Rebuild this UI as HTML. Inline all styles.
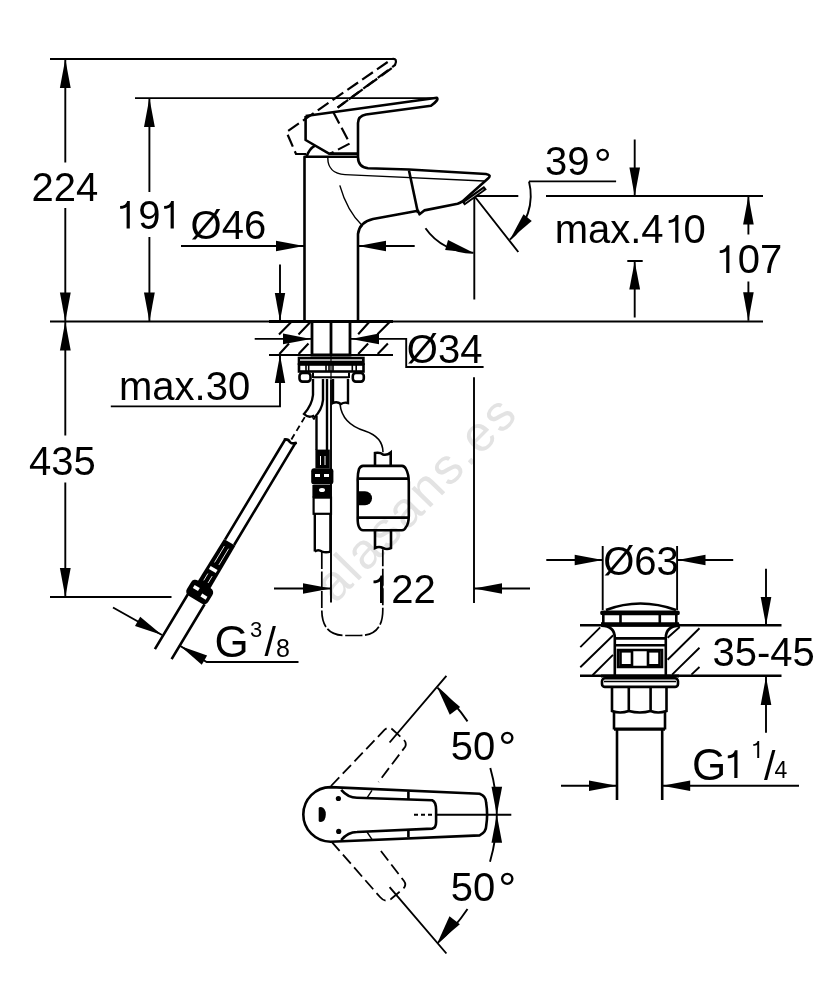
<!DOCTYPE html>
<html><head><meta charset="utf-8"><style>
html,body{margin:0;padding:0;background:#fff;}
svg{display:block;will-change:transform;}
text{font-family:"Liberation Sans",sans-serif;font-size:40px;fill:#000;}
</style></head><body>
<svg width="834" height="1000" viewBox="0 0 834 1000">
<defs>
  <path id="one" d="M0,0 V-27.7 H-2.6 C-3.2,-24.6 -6,-22.8 -9.7,-22.5 V-19.8 C-6.7,-19.8 -4.6,-20.6 -3.2,-21.6 V0 Z"/>
  <path id="ah" d="M0,0l-28,-5.3v10.6z"/>
</defs>
<rect width="834" height="1000" fill="#fff"/>
<!-- watermark -->
<text x="0" y="0" transform="translate(335.2,604.4) rotate(-45.6)" style="fill:#e3e3e3;font-size:50px;letter-spacing:2.6px">alasans.es</text>

<!-- ============ DIMENSION LINES ============ -->
<g stroke="#000" stroke-width="1.9" fill="none">
  <path d="M50,59H395 M135,98.1H437 M50,321.5H763 M50,597H171.5"/>
  <path d="M65.3,59V162.4 M65.3,208V435.6 M65.3,482.6V597"/>
  <path d="M149.4,98V192 M149.4,237V321.5"/>
  <path d="M181,246H304 M358,246H414.7"/>
  <path d="M280,264.4V321 M280,355V406.4H110.8"/>
  <path d="M254.7,338.9H311 M351,338.9H406.2V367H483.6"/>
  <path d="M474.3,196V299.5 M474.3,196H518.3 M546,196H763 M474.3,196L518.3,252"/>
  <path d="M529,181.4H616.1"/>
  <path d="M634.7,139.6V196 M634.7,261.5V317.6 M627.3,261H642.7"/>
  <path d="M748.4,196V234.4 M748.4,281.6V320.7"/>
  <path d="M529,181.4 A57,57 0 0 1 510,239.4"/>
  <path d="M425.5,228.2 A57,57 0 0 0 473.5,252.7"/>
  <path d="M331,380V602.4 M474,377.2V603 M274,588.5H331 M474,588.5H530"/>
  <path d="M113,607.5L162,635 M180.3,646L206.7,662H298.5"/>
  <path d="M546.3,560H602.7 M677.5,560H733.2 M602.7,545.9V610 M677.1,545.9V610"/>
  <path d="M766,568.8V625.6 M766,676.5V732.7"/>
  <path d="M561,785.7H617 M662.2,785.7H799"/>
  <path d="M446.4,675.8L389.6,742.5 M389.6,887.1L446.4,953.5"/>
  <path d="M437.5,687.8 A168,168 0 0 1 467.5,721.4 M490.3,768.1 A168,168 0 0 1 496.8,814.8 A168,168 0 0 1 490,861.7 M467.5,909 A168,168 0 0 1 437.2,943.4"/>
  <path d="M414,814.8h4 M421,814.8h4 M428,814.8h4 M436,814.8H511.3" />
</g>

<g fill="#000" stroke="none">
  <path d="M65.3,59l-5.4,29h10.8z"/>
  <path d="M65.3,321.5l-5.4,-29h10.8z"/>
  <path d="M65.3,321.5l-5.4,29h10.8z"/>
  <path d="M65.3,597l-5.4,-29h10.8z"/>
  <path d="M149.4,98l-5.4,29h10.8z"/>
  <path d="M149.4,321.5l-5.4,-29h10.8z"/>
  <path d="M280,321l-5.2,-28h10.4z"/>
  <path d="M280,355l-5.2,28h10.4z"/>
  <path d="M634.7,196l-5.3,-28.5h10.6z"/>
  <path d="M634.7,261.5l-5.4,28h10.8z"/>
  <path d="M748.4,196l-5.3,28.5h10.6z"/>
  <path d="M748.4,320.7l-5.3,-28.5h10.6z"/>
  <path d="M766,625.6l-5.3,-28.5h10.6z"/>
  <path d="M766,676.5l-5.3,28.5h10.6z"/>
  <path d="M304,246l-28,-5.3v10.6z"/>
  <path d="M358,246l28,-5.3v10.6z"/>
  <path d="M311,338.9l-28,-5.3v10.6z"/>
  <path d="M351,338.9l28,-5.3v10.6z"/>
  <path d="M331,588.5l-28,-5.3v10.6z"/>
  <path d="M474,588.5l28,-5.3v10.6z"/>
  <path d="M602.7,560l-28,-5.3v10.6z"/>
  <path d="M677.5,560l28,-5.3v10.6z"/>
  <path d="M617,785.7l-28,-5.3v10.6z"/>
  <path d="M662.2,785.7l28,-5.3v10.6z"/>
  <use href="#ah" transform="translate(162,635) rotate(29.3)"/>
  <use href="#ah" transform="translate(180.3,646) rotate(210.4)"/>
  <use href="#ah" transform="translate(510,239.4) rotate(129)"/>
  <use href="#ah" transform="translate(473.5,252.7) rotate(16)"/>
  <path d="M0,0l-29,-6.5v13z" transform="translate(437.5,687.8) rotate(-127)"/>
  <use href="#ah" transform="translate(496.8,814.8) rotate(90)"/>
  <use href="#ah" transform="translate(496.8,814.8) rotate(-90)"/>
  <path d="M0,0l-29,-6.5v13z" transform="translate(437.2,943.4) rotate(127)"/>
</g>

<!-- ============ FAUCET SIDE VIEW ============ -->
<g stroke="#000" stroke-width="2.6" fill="none" stroke-linejoin="round">
  <path d="M304.5,321.5V156.8H358"/>
  <path d="M358,321.5V234 Q359.5,222 373,219 L418,210.7 L419.5,214.3 L424.3,210.4 L457.6,203.8 Q460,203 462.4,201.4 L488,178.5 Q492,175 486,174 L409,169.5 L368,168.3 Q358,167 358,157"/>
  <path d="M409,170.5L418,213"/>
  <path d="M305.6,116 V140 L329,153.6 H358 M305.6,116 L437,97.8 Q439,100 431,105.8 L366,114.5 Q358,116 358,123 V157"/>
  <path d="M306.5,157 Q309,149 315,145.7"/>
</g>
<path d="M461.5,201.8 L484,186 L486.8,189.6 L464.5,205.5 Z" fill="#000"/>
<path d="M465,202.5 L483.5,189.3" stroke="#fff" stroke-width="0.7"/>
<g stroke="#000" stroke-width="1.4" fill="none">
  <path d="M327.8,158 C327.8,167 333,174 345,174.6 L484,181"/>
  <path d="M339.8,185.4 Q347,211 362.6,226.1"/>
</g>
<g stroke="#000" stroke-width="2.2" fill="none" stroke-dasharray="13,5">
  <path d="M306,154 H296 L286.5,132 L392,59 Q398,58 395,65 L337.6,107.6"/>
  <path d="M333.2,111.9 L349.8,143.5 L330.4,153.6"/>
  <path d="M337.6,107.6 L392,68"/>
</g>

<!-- countertop hatch -->
<g stroke="#000" stroke-width="2.1" fill="none">
  <path d="M269,355H393"/>
  <path d="M279,334.5L291,322.3 M298.5,334.5L310,322.5 M279.4,354L289,343.5 M298.6,354L308.5,343.5"/>
  <path d="M358.2,334.2L369,322.2 M377.4,334.2L389.4,322.2 M358.2,354L368.1,343.5 M377.7,354L387.9,343.5"/>
</g>
<g stroke="#000" stroke-width="2.8" fill="none">
  <path d="M269,321.5H393"/>
  <path d="M312,321.5V355H350V321.5 M331,321.5V355"/>
</g>
<!-- plate & nuts -->
<g stroke="#000" fill="none">
  <rect x="297.7" y="356.7" width="67" height="8.3" fill="#000" stroke="none"/>
  <rect x="300" y="359" width="62" height="2" fill="#aaa" stroke="none"/>
  <rect x="299" y="364.5" width="64.5" height="7" stroke-width="2.6"/>
  <path d="M306,365V371 M308.7,365V371 M326,365V371 M329,365V371 M333,365V371 M352.3,365V371 M356.2,365V371" stroke-width="1.6"/>
  <path d="M331,356V380" stroke-width="1.2"/>
  <rect x="299.5" y="373" width="11" height="8.6" rx="3" stroke-width="2.6"/>
  <rect x="352.8" y="373" width="11" height="8.6" rx="3" stroke-width="2.6"/>
  <path d="M313,377.3H349 M313,372.5V378 M349,372.5V378" stroke-width="2"/>
</g>
<!-- pipes under -->
<g stroke="#000" stroke-width="2.4" fill="none">
  <path d="M313,379V395 Q312,405 304,414 Q308,418 313,416 Q314,420 314,418 M323,379V400 Q322,410 314,418"/>
  <path d="M316.5,416V450 M327,379V450"/>
  <path d="M333,379V403 Q337,401 341,404 Q344,402 348,403 V379"/>
  <path d="M314.8,514V551.6 M330.4,514V551.6 M314.8,551.6 Q318,549 322,551.6 Q326,553 330.4,551.6"/>
</g>
<g stroke="#000" stroke-width="1.6" fill="none">
  <path d="M340,404 Q342,424 365,431 Q383,437 383,452.3"/>
</g>
<!-- connector -->
<g fill="#000" stroke="#000">
  <rect x="315.4" y="449.6" width="14.4" height="18.6" stroke="none"/>
  <path d="M320.5,456V465 M325,456V465" stroke="#fff" stroke-width="1"/>
  <rect x="311.2" y="468.2" width="22.2" height="16.2" rx="3" stroke="none"/>
  <rect x="312.4" y="485" width="19.2" height="12.6" stroke="none"/>
  <rect x="313.6" y="497.6" width="17.4" height="16.2" fill="none" stroke-width="2.2"/>
  <rect x="315" y="474" width="5" height="3" fill="#fff" stroke="none"/>
  <rect x="324" y="474" width="5" height="3" fill="#fff" stroke="none"/>
  <ellipse cx="322" cy="490" rx="3" ry="2" fill="#fff" stroke="none"/>
</g>
<g stroke="#000" stroke-width="1.7" fill="none" stroke-dasharray="17,2.5">
  <path d="M321.8,552V610 Q321.8,635.5 345,635.5 H360 Q382.8,635.5 382.8,610 V548"/>
</g>
<!-- control box -->
<g stroke="#000" stroke-width="2.6" fill="none">
  <path d="M363,465.9 H402 Q404.5,466 406,469 Q408.7,474 408.8,482 V516 Q408.7,524 406,527 Q404.5,530.3 402,530.3 H363 Q360.5,530.3 359,527 Q357.4,524 357.7,516 V482 Q357.4,474 359,469 Q360.5,466 363,465.9 Z"/>
  <path d="M358,478.6H408.5 M358,517.6H408.5"/>
  <path d="M375,465.9V453 Q380,452 383,454.5 Q387,455.5 390.7,452.5 V465.9"/>
  <path d="M375,530.3V548 Q379,546 383,548 Q387,550 391,548 V530.3"/>
</g>
<path d="M358.5,491.2 H365 A7,7 0 0 1 365,505.2 H358.5 Z" fill="#000"/>

<!-- diagonal hose -->
<g transform="translate(199.7,592) rotate(31)">
  <g stroke="#000" stroke-width="2.6" fill="none">
    <path d="M-5.3,-58V-175 M5.3,-58V-178"/>
    <path d="M-6.3,-174 Q-3,-177 0,-175 Q3,-174 6.3,-178"/>
    <path d="M-9,8V72 M10.5,8V72"/>
  </g>
  <path d="M0,-178V-208" stroke="#000" stroke-width="1.8" stroke-dasharray="6,4"/>
  <path d="M-7.3,-5 L-6.6,-58 H6.8 L7.3,-5 Z" fill="#000"/>
  <rect x="-12.5" y="-9" width="25" height="18" rx="5" fill="#000"/>
  <rect x="-8" y="-3.5" width="6" height="3.5" fill="#fff"/>
  <rect x="3" y="0" width="6" height="3.5" fill="#fff"/>
  <rect x="-4" y="-28" width="8" height="3.5" fill="#fff"/>
  <path d="M-2.5,-52V-33 M2.5,-52V-33 M-2.5,-20V-12 M2.5,-20V-12" stroke="#fff" stroke-width="0.8"/>
</g>

<!-- ============ POP-UP WASTE ============ -->
<g stroke="#000" stroke-width="2.4" fill="none">
  <path d="M580,625.2H781.5 M580,675.8H781.5"/>
</g>
<g stroke="#000" stroke-width="1.9" fill="none">
  <path d="M580.3,647.2L600.2,627.3 M580.3,667.2L613.2,635.3 M592.5,675.2L613,654.9"/>
  <path d="M667.6,637.8L679.7,627 M667.6,659.8L699.5,628.3 M672.1,674.6L699.5,647.7 M691.4,674.6L699.5,667"/>
</g>
<g stroke="#000" stroke-width="2.6" fill="none">
  <path d="M606,610 Q640,597 676,610"/>
  <path d="M602.5,612.9H677.5" stroke-width="4.8" stroke-linecap="round"/>
  <path d="M603.3,614.8V623 M676.3,614.8V623 M620.5,614.8V623 M659.8,614.8V623"/>
  <path d="M601,623.5H679" stroke-width="2.6"/>
  <path d="M601,625.2H680" stroke-width="3"/>
  <path d="M601.6,625.6 Q614.8,626 614.8,638 V676 M679.3,625.6 Q665.8,626 665.8,638 V676"/>
  <path d="M615,638.4H666 M615,645.2H666 M618,650V667 H662 V650 Z"/>
  <rect x="620.5" y="651.3" width="11.5" height="14"/>
  <rect x="648" y="651.3" width="11.5" height="14"/>
  <path d="M601,676H679" stroke-width="3"/>
  <rect x="602" y="678.3" width="76" height="8.6" rx="3"/>
  <path d="M604,681.5H676" stroke-width="1.4"/>
  <path d="M612,687V711 Q620,714 628.8,711 Q640,714 650.6,711 Q658,714 666.5,711 V687 M628.8,687V711 M650.6,687V711"/>
  <path d="M614,711V729.6 M665,711V729.6 M617,729.6V800 M662.2,729.6V800"/>
  <path d="M614,729.2H665" stroke-width="3.2"/>
</g>

<!-- ============ TOP VIEW ============ -->
<g stroke="#000" stroke-width="2.6" fill="none">
  <path d="M330.6,787.1 A27.3,27.3 0 0 0 330.6,841.7 L479.6,835.4 Q486.2,832 486.2,826 Q488,814.8 486.2,803 Q486.2,796 479.6,793.7 Z"/>
  <path d="M341.2,789.8 Q348,797.7 357,797.7 L432.2,800.3 Q436.1,802 436.1,810 V822 Q436.1,828 432.2,828.6 L357,832 Q348,832 341.2,840"/>
  <path d="M408.4,791.5V800 M408.4,829V837"/>
  <path d="M367,797.8L372,790.4 M367,832L372,839.4" stroke-width="1.4"/>
</g>
<g fill="#000">
  <circle cx="338.4" cy="798.5" r="2.6"/>
  <circle cx="338.7" cy="831.4" r="2.6"/>
  <path d="M318.7,808 Q318.7,807 321,807 Q325.8,808 325.8,814.5 Q325.8,821 321,822 Q318.7,822 318.7,821 Z"/>
</g>
<g stroke="#000" stroke-width="1.8" fill="none" stroke-dasharray="12,5">
  <path d="M331,786 L384.7,729.7 Q388,726.5 392,729 L404,740 Q407,743.5 405,747 L378.5,782"/>
  <path d="M331.7,841.9 L380,897 Q385,903 391,899 L403,889 Q407,885 404,881 L379,848.5"/>
</g>

<!-- texts -->
<text x="31.5" y="200.7">224</text>
<use href="#one" transform="translate(129.8,228.6)"/>
<text x="138.3" y="228.6">9</text>
<use href="#one" transform="translate(173.8,228.6)"/>
<text x="190.6" y="239">Ø46</text>
<text x="119" y="400">max.30</text>
<text x="29" y="475">435</text>
<text x="545" y="175">39</text>
<text x="593.7" y="179.5" style="font-size:45px">°</text>
<text x="554.7" y="242.7">max.4</text>
<use href="#one" transform="translate(678.4,242.7)"/>
<text x="683.5" y="242.7">0</text>
<use href="#one" transform="translate(729.4,272.9)"/>
<text x="737.7" y="272.9">07</text>
<text x="406.8" y="362.5">Ø34</text>
<use href="#one" transform="translate(383.2,603.1)"/>
<text x="391.3" y="603.1">22</text>
<text x="603.2" y="575">Ø63</text>
<text x="712.5" y="666">35-45</text>
<text x="450.7" y="759.5">50</text>
<text x="498.3" y="763.2" style="font-size:45px">°</text>
<text x="450.7" y="900.5">50</text>
<text x="498.3" y="904.1" style="font-size:45px">°</text>
<text x="214.5" y="656.5" style="font-size:44px">G</text>
<text x="250" y="637" style="font-size:22px">3</text>
<text x="264.5" y="656" style="font-size:41px">/</text>
<text x="276" y="656.5" style="font-size:25px">8</text>
<text x="692" y="779.5" style="font-size:44px">G</text>
<use href="#one" transform="translate(737.5,778)"/>
<use href="#one" transform="translate(759.2,758.1) scale(0.62)"/>
<text x="764" y="779.5" style="font-size:41px">/</text>
<text x="774.5" y="778" style="font-size:23px">4</text>
</svg>
</body></html>
